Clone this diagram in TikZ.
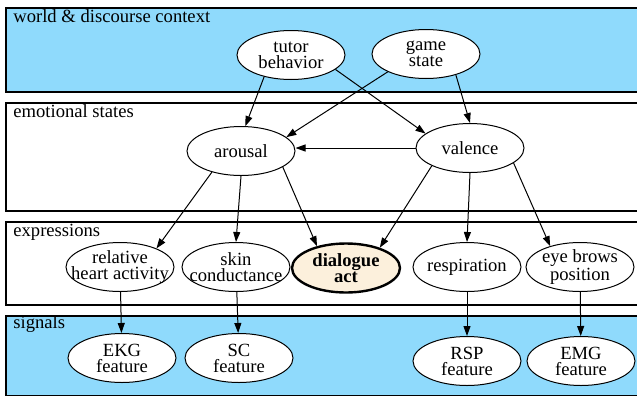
\documentclass[tikz,border=0pt]{standalone}
\usepackage{fontspec}
\setmainfont{Liberation Serif}
\usetikzlibrary{shapes.geometric,arrows.meta}
\definecolor{layerblue}{RGB}{143,218,252}
\definecolor{actfill}{RGB}{252,240,220}

\begin{document}
\begin{tikzpicture}[x=0.5pt,y=-0.5pt,
    >={Triangle[length=5pt,width=3.5pt]},
    var/.style={ellipse,draw,fill=white,line width=0.5pt,minimum width=54pt,minimum height=24.5pt,
        inner xsep=-8pt,inner ysep=-2pt,align=center,font=\fontsize{9.3}{8}\selectfont},
    act/.style={var,line width=1.2pt,fill=actfill,font=\fontsize{9.3}{8}\selectfont\bfseries},
    layer/.style={draw,line width=0.8pt},
    layerlabel/.style={anchor=base west,inner sep=0pt,font=\fontsize{9.3}{11}\selectfont},
    link/.style={->,line width=0.5pt}]

                % Fix the page size
                \useasboundingbox (0,0) rectangle (637,397);
                \clip (0,0) rectangle (637,397);

                % Draw the layers
                \draw[layer,fill=layerblue] (6,8) rectangle (645,92);
                \draw[layer] (6,103) rectangle (645,211);
                \draw[layer] (6,222) rectangle (645,305);
                \draw[layer,fill=layerblue] (6,316) rectangle (645,395.5);

                % Label the layers
                \node[layerlabel] (worldlbl) at (13,22) {world \& discourse context};
                \node[layerlabel] (emolbl) at (13,117) {emotional states};
                \node[layerlabel] (exprlbl) at (13,236) {expressions};
                \node[layerlabel] (siglbl) at (13,328) {signals};

                % Draw the variables
                \node[var] (tutor) at (291,55) {tutor\\behavior};
                \node[var] (game) at (426,54) {game\\state};
                \node[var] (arousal) at (241,151) {arousal};
                \node[var] (valence) at (470,148) {valence};
                \node[var] (heart) at (120,267) {relative\\heart activity};
                \node[var] (skin) at (236,267) {skin\\conductance};
                \node[act] (dialogue) at (346,268) {dialogue\\act};
                \node[var] (resp) at (467,267) {respiration};
                \node[var] (brows) at (580,267) {eye brows\\position};
                \node[var] (ekg) at (122,358) {EKG\\feature};
                \node[var] (sc) at (239,358) {SC\\feature};
                \node[var] (rsp) at (467,361) {RSP\\feature};
                \node[var] (emg) at (581,361) {EMG\\feature};

                % Draw the dependencies
                \draw[link] (tutor.219) -- (arousal.80);
                \draw[link] (tutor.342) -- (valence.162);
                \draw[link] (game.205) -- (arousal.17);
                \draw[link] (game.325) -- (valence.north);
                \draw[link] (valence.west) -- (valence.west -| arousal.east);
                \draw[link] (arousal.216) -- (heart.27);
                \draw[link] (arousal.south) -- (skin.north);
                \draw[link] (arousal.339) -- (dialogue.143);
                \draw[link] (valence.205) -- (dialogue.31);
                \draw[link] (valence.south) -- (resp.north);
                \draw[link] (valence.341) -- (brows.145);
                \draw[link] (heart) -- (ekg);
                \draw[link] (skin) -- (sc);
                \draw[link] (resp) -- (rsp);
                \draw[link] (brows) -- (emg);

            \end{tikzpicture}
\end{document}
